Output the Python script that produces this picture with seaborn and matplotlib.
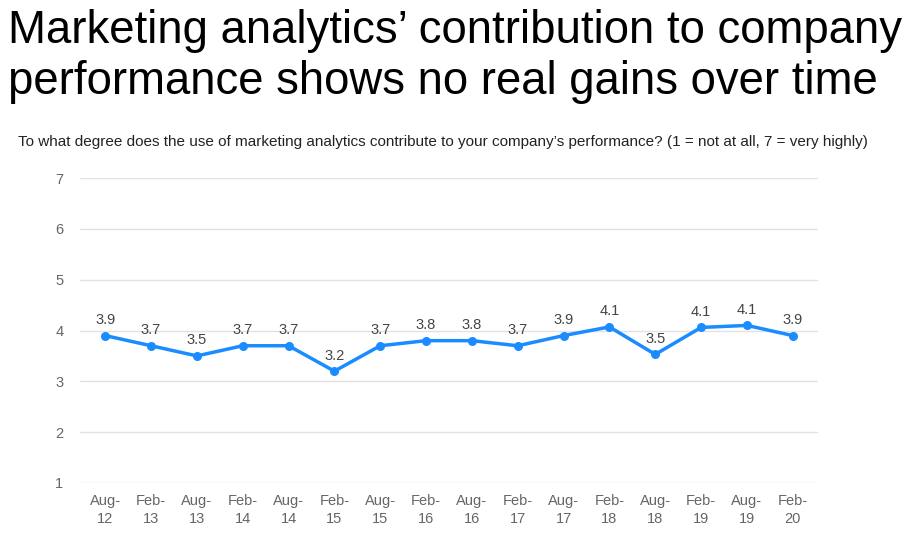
import matplotlib
matplotlib.use("Agg")
import matplotlib.pyplot as plt
import seaborn as sns
import pandas as pd

# survey waves and mean scores (1-7 scale)
periods = ["Aug-\n12", "Feb-\n13", "Aug-\n13", "Feb-\n14", "Aug-\n14", "Feb-\n15",
           "Aug-\n15", "Feb-\n16", "Aug-\n16", "Feb-\n17", "Aug-\n17", "Feb-\n18",
           "Aug-\n18", "Feb-\n19", "Aug-\n19", "Feb-\n20"]
scores = [3.9, 3.7, 3.5, 3.7, 3.7, 3.2, 3.7, 3.8, 3.8, 3.7, 3.9, 4.07, 3.53, 4.06, 4.1, 3.9]
y_ticks = [1, 2, 3, 4, 5, 6, 7]

df = pd.DataFrame({"period": periods, "score": scores})
df["pos"] = range(len(df))

sns.set_style("white")
plt.rcParams["font.family"] = ["Liberation Sans", "DejaVu Sans"]

fig = plt.figure(figsize=(9.19, 5.42), dpi=100)
ax = fig.add_axes([80 / 919, 1 - 483 / 542, 738 / 919, 305 / 542])

line_color = "#1a8cff"
sns.lineplot(data=df, x="pos", y="score", ax=ax, color=line_color, linewidth=2.5,
             marker="o", markersize=6.5, markeredgewidth=0)

for x, y in zip(df["pos"], df["score"]):
    ax.text(x, y + 0.17, f"{y:.1f}", ha="center", va="bottom", fontsize=10.5, color="#444444")

ax.set_ylim(1, 7)
ax.set_xlim(-0.55, len(df) - 0.45)
ax.set_yticks(y_ticks)
ax.set_xticks(df["pos"])
ax.set_xticklabels(periods, linespacing=1.35)
ax.tick_params(axis="both", length=0, labelsize=10.5, labelcolor="#666666")
ax.tick_params(axis="y", pad=12)
ax.tick_params(axis="x", pad=8)
ax.yaxis.grid(True, color="#e2e2e2", linewidth=1)
ax.set_xlabel("")
ax.set_ylabel("")
for s in ax.spines.values():
    s.set_visible(False)

fig.text(8 / 919, 1 - 9 / 542,
         "Marketing analytics\u2019 contribution to company\nperformance shows no real gains over time",
         ha="left", va="top", fontsize=32.8, color="black", linespacing=1.22)
fig.text(18 / 919, 1 - 142 / 542,
         "To what degree does the use of marketing analytics contribute to your company\u2019s performance? (1 = not at all, 7 = very highly)",
         ha="left", va="center", fontsize=11, color="#222222")

fig.savefig("out.png", dpi=100)
